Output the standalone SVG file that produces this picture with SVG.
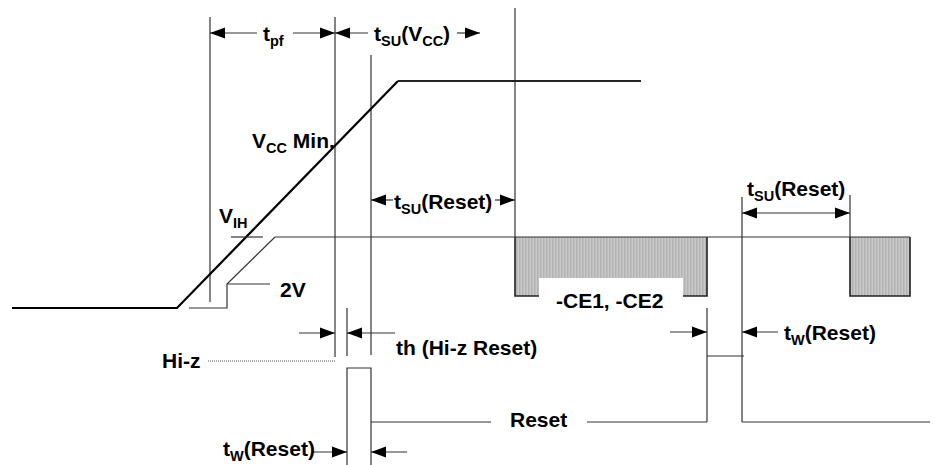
<svg xmlns="http://www.w3.org/2000/svg" width="935" height="465" viewBox="0 0 935 465">
<style>
.t{font-family:"Liberation Sans",Arial,sans-serif;font-weight:bold;font-size:21px;fill:#000}
.s{font-size:14.5px}
.thin{stroke:#333;stroke-width:1.2;fill:none}
.thick{stroke:#000;stroke-width:2.2;fill:none}
.arr{stroke:#333;stroke-width:1.2;fill:none;marker-end:url(#ah)}
.blk{stroke:#222;stroke-width:1.6;fill:none}
</style>
<defs>
<marker id="ah" markerUnits="userSpaceOnUse" markerWidth="16" markerHeight="12" refX="15" refY="5.5" orient="auto-start-reverse" viewBox="0 0 16 11">
<path d="M0,0 L15,5.5 L0,11 z" fill="#000"/>
</marker>
<pattern id="hatch" patternUnits="userSpaceOnUse" width="3" height="10">
<rect width="3" height="10" fill="#c9c9c9"/>
<rect width="1.5" height="10" fill="#b3b3b3"/>
</pattern>
</defs>

<g id="hatched-blocks">
<rect x="515" y="237" width="192" height="59" fill="url(#hatch)"/>
<rect x="539" y="278" width="144" height="20" fill="#fff"/>
<path class="blk" d="M515,237 V296 H539 M683,296 H707 V237"/>
<rect x="850" y="237" width="60" height="59" fill="url(#hatch)"/>
<path class="blk" d="M850,237 V296 H910 V237"/>
</g>

<g id="connectors">
<line class="thin" x1="210" y1="17" x2="210" y2="302"/>
<line class="thin" x1="335" y1="17" x2="335" y2="357"/>
<line class="thin" x1="371" y1="55" x2="371" y2="355"/>
<line class="thin" x1="347" y1="308" x2="347" y2="356"/>
<line class="thin" x1="515" y1="8" x2="515" y2="237"/>
<line class="thin" x1="742" y1="197" x2="742" y2="422"/>
<line class="thin" x1="850" y1="195" x2="850" y2="237"/>
<line class="thin" x1="707" y1="308" x2="707" y2="422"/>
<line class="thin" x1="707" y1="356" x2="744" y2="356"/>

<path class="thick" d="M12,308 H177 L398,81"/>
<line x1="398" y1="81" x2="641" y2="81" stroke="#222" stroke-width="2"/>

<line class="thin" x1="231" y1="237" x2="263" y2="237"/>
<path class="thin" d="M275,237 L227,284 V308 H189"/>
<line class="thin" x1="227" y1="284" x2="270" y2="284"/>
<line class="thin" x1="275" y1="237" x2="910" y2="237"/>

<line x1="208" y1="361" x2="335" y2="361" stroke="#555" stroke-width="1" stroke-dasharray="1,1"/>

<path class="thin" d="M347,465 V368 H371 V465"/>
<line class="thin" x1="371" y1="422" x2="491" y2="422"/>
<line class="thin" x1="587" y1="422" x2="707" y2="422"/>
<line class="thin" x1="742" y1="422" x2="930" y2="422"/>

<line class="arr" x1="257" y1="33" x2="210" y2="33"/>
<line class="arr" x1="293" y1="33" x2="335" y2="33"/>
<line class="arr" x1="368" y1="33" x2="335" y2="33"/>
<line class="arr" x1="457" y1="33" x2="480" y2="33"/>
<line class="arr" x1="393" y1="200" x2="371" y2="200"/>
<line class="arr" x1="495" y1="200" x2="515" y2="200"/>
<line class="arr" x1="742" y1="213" x2="850" y2="213" style="marker-start:url(#ah)"/>
<line class="arr" x1="299" y1="333" x2="335" y2="333"/>
<line class="arr" x1="395" y1="333" x2="347" y2="333"/>
<line class="arr" x1="670" y1="332" x2="707" y2="332"/>
<line class="arr" x1="778" y1="332" x2="742" y2="332"/>
<line class="arr" x1="312" y1="452" x2="347" y2="452"/>
<line class="arr" x1="407" y1="452" x2="371" y2="452"/>
</g>

<g id="labels">
<text class="t" x="263" y="41">t<tspan class="s" dy="5">pf</tspan></text>
<text class="t" x="374" y="41">t<tspan class="s" dy="5">SU</tspan><tspan dy="-5">(V</tspan><tspan class="s" dy="5">CC</tspan><tspan dy="-5">)</tspan></text>
<text class="t" x="252" y="148">V<tspan class="s" dy="5">CC</tspan><tspan dy="-5"> Min.</tspan></text>
<text class="t" x="219" y="223">V<tspan class="s" dy="5">IH</tspan></text>
<text class="t" x="280" y="297">2V</text>
<text class="t" x="394" y="209">t<tspan class="s" dy="5">SU</tspan><tspan dy="-5">(Reset)</tspan></text>
<text class="t" x="747" y="196">t<tspan class="s" dy="5">SU</tspan><tspan dy="-5">(Reset)</tspan></text>
<text class="t" x="556" y="308">-CE1, -CE2</text>
<text class="t" x="162" y="368">Hi-z</text>
<text class="t" x="396" y="355">th (Hi-z Reset)</text>
<text class="t" x="784" y="340">t<tspan class="s" dy="5">W</tspan><tspan dy="-5">(Reset)</tspan></text>
<text class="t" x="510" y="427">Reset</text>
<text class="t" x="223" y="456">t<tspan class="s" dy="5">W</tspan><tspan dy="-5">(Reset)</tspan></text>
</g>
</svg>
